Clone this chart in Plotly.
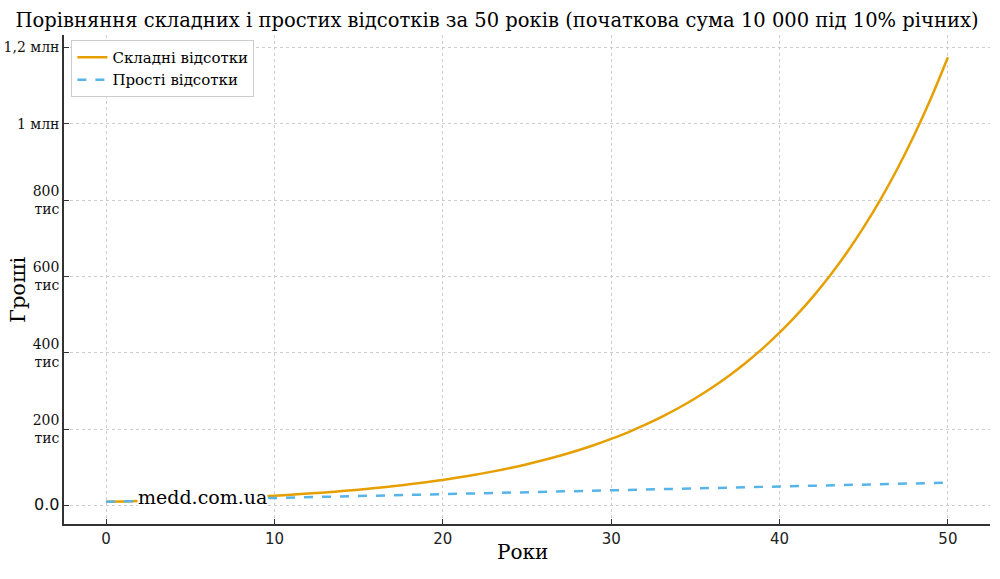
import plotly.graph_objects as go

years = list(range(0, 51))
compound = [10000, 11000, 12100, 13310, 14641, 16105, 17716, 19487, 21436, 23579,
            25937, 28531, 31384, 34523, 37975, 41772, 45950, 50545, 55599, 61159,
            67275, 74002, 81403, 89543, 98497, 108347, 119182, 131100, 144210, 158631,
            174494, 191943, 211138, 232252, 255477, 281024, 309127, 340039, 374043, 411448,
            452593, 497852, 547637, 602401, 662641, 728905, 801795, 881975, 970172, 1067190,
            1173909]
simple = [10000, 11000, 12000, 13000, 14000, 15000, 16000, 17000, 18000, 19000,
          20000, 21000, 22000, 23000, 24000, 25000, 26000, 27000, 28000, 29000,
          30000, 31000, 32000, 33000, 34000, 35000, 36000, 37000, 38000, 39000,
          40000, 41000, 42000, 43000, 44000, 45000, 46000, 47000, 48000, 49000,
          50000, 51000, 52000, 53000, 54000, 55000, 56000, 57000, 58000, 59000,
          60000]
y_tick_vals = [0, 200000, 400000, 600000, 800000, 1000000, 1200000]
y_tick_text = ['<span style="font-family:DejaVu Sans;font-size:16px">0.0</span>', "200<br>тис", "400<br>тис",
               "600<br>тис", "800<br>тис", "1 млн", "1,2 млн"]
x_tick_vals = [0, 10, 20, 30, 40, 50]

SERIF = "DejaVu Serif"

fig = go.Figure()
fig.add_trace(go.Scatter(x=years, y=compound, mode="lines", name="Складні відсотки",
                         line=dict(color="#E69F00", width=2.5, shape="spline")))
fig.add_trace(go.Scatter(x=years, y=simple, mode="lines", name="Прості відсотки",
                         line=dict(color="#56B4E9", width=2.5, dash="dash")))

fig.add_annotation(x=5.75, y=23000, text="medd.com.ua", showarrow=False,
                   font=dict(family=SERIF, size=19, color="black"),
                   bgcolor="white", xanchor="center", yanchor="middle", borderpad=0)

# axis titles as annotations for exact placement
fig.add_annotation(xref="paper", yref="paper", x=(522 - 64) / 926, y=-(552 - 524) / 489,
                   text="Роки", showarrow=False, xanchor="center", yanchor="middle",
                   font=dict(family=SERIF, size=20, color="black"))
fig.add_annotation(xref="paper", yref="paper", x=-(64 - 18) / 926, y=(524 - 290) / 489,
                   text="Гроші", showarrow=False, xanchor="center", yanchor="middle",
                   textangle=-90, font=dict(family=SERIF, size=21, color="black"))

fig.update_layout(
    width=1000, height=579,
    margin=dict(l=64, r=10, t=35, b=55),
    plot_bgcolor="white", paper_bgcolor="white",
    title=dict(text="Порівняння складних і простих відсотків за 50 років (початкова сума 10 000 під 10% річних)",
               x=0.497, xanchor="center", y=0.965, yanchor="middle",
               font=dict(family=SERIF, size=19.5, color="black")),
    legend=dict(x=0.008, y=0.99, xanchor="left", yanchor="top",
                bgcolor="white", bordercolor="#cccccc", borderwidth=1,
                font=dict(family=SERIF, size=15, color="black"), tracegroupgap=0),
    xaxis=dict(range=[-2.5, 52.5], tickvals=x_tick_vals, ticks="inside", ticklen=5,
               tickcolor="#333333", showline=True, linecolor="#333333", linewidth=1.5,
               showgrid=True, gridcolor="#cccccc", griddash="dot", gridwidth=1,
               zeroline=False, automargin=False,
               tickfont=dict(family="DejaVu Sans", size=15, color="#222222")),
    yaxis=dict(range=[-48195, 1232104], tickvals=y_tick_vals, ticktext=y_tick_text,
               ticks="inside", ticklen=5, tickcolor="#333333",
               showline=True, linecolor="#333333", linewidth=1.5,
               showgrid=True, gridcolor="#cccccc", griddash="dot", gridwidth=1,
               zeroline=False, automargin=False,
               tickfont=dict(family=SERIF, size=14, color="#111111")),
)

fig.write_html("out.html")
